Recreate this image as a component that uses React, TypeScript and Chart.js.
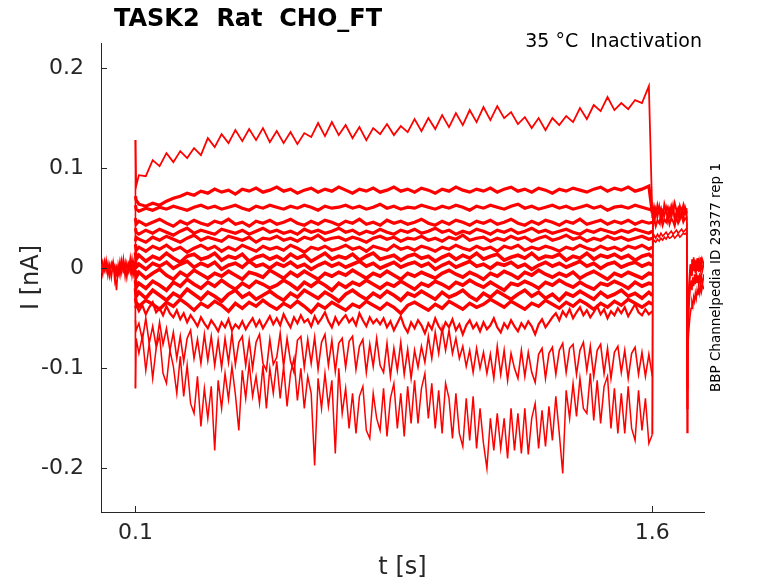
import React, { useEffect, useRef } from "react";
import { Chart, registerables } from "chart.js";

Chart.register(...registerables);

const FONT = '"DejaVu Sans", sans-serif';
const RED = "#ff0000";
const AXIS_GRAY = "#262626";

const TITLE = "TASK2  Rat  CHO_FT";
const CONDITION = "35 °C  Inactivation";
const SOURCE = "BBP Channelpedia ID 29377 rep 1";
const X_LABEL = "t [s]";
const Y_LABEL = "I [nA]";

const X_TICKS = [0.1, 1.6];
const Y_TICKS = [-0.2, -0.1, 0, 0.1, 0.2];

// holding level before the conditioning step (last point = step transient)
const T_BASE = [0, 0.005, 0.01, 0.015, 0.02, 0.025, 0.03, 0.035, 0.04, 0.045, 0.05,
    0.055, 0.06, 0.065, 0.07, 0.075, 0.08, 0.085, 0.09, 0.095, 0.0995, 0.1];

const BASE_1 = [0.004, -0.006, 0.007, -0.003, 0.005, -0.008, 0.002, 0.006, -0.005, -0.022, 0.003,
    -0.007, 0.008, -0.002, 0.006, -0.009, 0.004, -0.004, 0.009, -0.006, 0.002, 0.128];
const BASE_2 = [-0.005, 0.006, -0.002, 0.008, -0.007, 0.003, -0.009, 0.005, -0.012, 0.001, -0.006,
    0.007, -0.004, 0.009, -0.008, 0.005, -0.003, 0.010, -0.007, 0.006, -0.004, -0.120];
const BASE_3 = [0.001, -0.003, 0.004, -0.001, 0.002, -0.004, 0.005, -0.002, 0.003, -0.006, 0.002,
    -0.001, 0.004, -0.003, 0.001, 0.003, -0.002, 0.005, -0.004, 0.002, 0.000, 0.002];

// conditioning pulse, 0.1 .. 1.6 s (quiet sweeps)
const T_COND = [0.1, 0.102,
    0.11, 0.13, 0.15, 0.17, 0.19, 0.21, 0.23, 0.25, 0.27, 0.29,
    0.31, 0.33, 0.35, 0.37, 0.39, 0.41, 0.43, 0.45, 0.47, 0.49,
    0.51, 0.53, 0.55, 0.57, 0.59, 0.61, 0.63, 0.65, 0.67, 0.69,
    0.71, 0.73, 0.75, 0.77, 0.79, 0.81, 0.83, 0.85, 0.87, 0.89,
    0.91, 0.93, 0.95, 0.97, 0.99, 1.01, 1.03, 1.05, 1.07, 1.09,
    1.11, 1.13, 1.15, 1.17, 1.19, 1.21, 1.23, 1.25, 1.27, 1.29,
    1.31, 1.33, 1.35, 1.37, 1.39, 1.41, 1.43, 1.45, 1.47, 1.49,
    1.51, 1.53, 1.55, 1.57, 1.59, 1.6];

const COND_A = [0.128, 0.082,
    0.093, 0.092, 0.108, 0.102, 0.115, 0.106, 0.117, 0.110, 0.120, 0.113,
    0.130, 0.121, 0.134, 0.125, 0.138, 0.127, 0.139, 0.128, 0.140, 0.126,
    0.137, 0.125, 0.136, 0.124, 0.135, 0.131, 0.145, 0.132, 0.146, 0.133,
    0.143, 0.130, 0.141, 0.128, 0.140, 0.134, 0.144, 0.133, 0.142, 0.136,
    0.149, 0.137, 0.150, 0.139, 0.153, 0.141, 0.155, 0.143, 0.158, 0.146,
    0.161, 0.148, 0.162, 0.150, 0.156, 0.144, 0.151, 0.140, 0.150, 0.138,
    0.150, 0.143, 0.152, 0.146, 0.160, 0.149, 0.163, 0.157, 0.171, 0.158,
    0.165, 0.159, 0.168, 0.165, 0.182, 0.052];
const COND_B = [0.072, 0.068,
    0.064, 0.062, 0.065, 0.063, 0.067, 0.070, 0.072, 0.075, 0.073, 0.077,
    0.075, 0.079, 0.076, 0.078, 0.074, 0.079, 0.077, 0.080, 0.076, 0.078,
    0.081, 0.077, 0.079, 0.075, 0.078, 0.080, 0.076, 0.079, 0.077, 0.081,
    0.078, 0.075, 0.079, 0.077, 0.080, 0.076, 0.078, 0.081, 0.077, 0.079,
    0.076, 0.080, 0.078, 0.075, 0.079, 0.077, 0.081, 0.078, 0.076, 0.079,
    0.077, 0.080, 0.076, 0.079, 0.081, 0.077, 0.079, 0.076, 0.080, 0.078,
    0.075, 0.079, 0.077, 0.080, 0.078, 0.076, 0.079, 0.081, 0.077, 0.080,
    0.078, 0.081, 0.077, 0.079, 0.082, 0.055];
const COND_C = [0.063, 0.059,
    0.057, 0.060, 0.058, 0.061, 0.059, 0.062, 0.060, 0.058, 0.061, 0.063,
    0.060, 0.062, 0.059, 0.061, 0.063, 0.060, 0.058, 0.062, 0.060, 0.063,
    0.061, 0.059, 0.062, 0.060, 0.063, 0.061, 0.058, 0.062, 0.060, 0.061,
    0.063, 0.060, 0.062, 0.059, 0.061, 0.064, 0.060, 0.062, 0.059, 0.061,
    0.060, 0.063, 0.061, 0.059, 0.062, 0.060, 0.063, 0.061, 0.058, 0.062,
    0.060, 0.063, 0.061, 0.059, 0.062, 0.064, 0.060, 0.062, 0.059, 0.061,
    0.063, 0.060, 0.062, 0.059, 0.061, 0.063, 0.060, 0.062, 0.058, 0.061,
    0.062, 0.060, 0.063, 0.061, 0.059, 0.058];
const COND_D = [0.050, 0.044,
    0.047, 0.043, 0.046, 0.049, 0.045, 0.042, 0.047, 0.044, 0.048, 0.045,
    0.043, 0.047, 0.045, 0.049, 0.044, 0.046, 0.042, 0.047, 0.045, 0.048,
    0.044, 0.046, 0.049, 0.045, 0.043, 0.047, 0.044, 0.048, 0.046, 0.043,
    0.047, 0.045, 0.049, 0.044, 0.046, 0.043, 0.048, 0.045, 0.047, 0.044,
    0.046, 0.049, 0.045, 0.043, 0.047, 0.044, 0.048, 0.046, 0.043, 0.047,
    0.045, 0.048, 0.044, 0.046, 0.049, 0.045, 0.043, 0.047, 0.044, 0.048,
    0.046, 0.043, 0.047, 0.045, 0.049, 0.044, 0.046, 0.048, 0.044, 0.047,
    0.045, 0.048, 0.044, 0.047, 0.045, 0.046];
const COND_E = [0.040, 0.036,
    0.034, 0.038, 0.035, 0.039, 0.036, 0.033, 0.037, 0.040, 0.035, 0.038,
    0.036, 0.034, 0.039, 0.037, 0.035, 0.038, 0.034, 0.037, 0.040, 0.036,
    0.038, 0.035, 0.037, 0.034, 0.039, 0.036, 0.038, 0.035, 0.037, 0.040,
    0.036, 0.038, 0.034, 0.037, 0.035, 0.039, 0.036, 0.034, 0.038, 0.036,
    0.039, 0.035, 0.037, 0.040, 0.036, 0.038, 0.034, 0.037, 0.035, 0.039,
    0.037, 0.034, 0.038, 0.036, 0.039, 0.035, 0.037, 0.040, 0.036, 0.038,
    0.035, 0.037, 0.039, 0.036, 0.034, 0.038, 0.036, 0.039, 0.037, 0.035,
    0.038, 0.036, 0.039, 0.037, 0.035, 0.037];
const COND_F = [0.027, 0.031,
    0.029, 0.026, 0.031, 0.028, 0.032, 0.029, 0.026, 0.030, 0.033, 0.028,
    0.031, 0.029, 0.027, 0.032, 0.030, 0.028, 0.031, 0.026, 0.030, 0.029,
    0.032, 0.028, 0.030, 0.027, 0.031, 0.029, 0.033, 0.028, 0.030, 0.031,
    0.028, 0.031, 0.029, 0.026, 0.030, 0.032, 0.029, 0.031, 0.027, 0.030,
    0.029, 0.032, 0.028, 0.030, 0.027, 0.031, 0.029, 0.033, 0.028, 0.030,
    0.031, 0.027, 0.030, 0.028, 0.032, 0.029, 0.031, 0.027, 0.030, 0.032,
    0.028, 0.030, 0.033, 0.029, 0.031, 0.027, 0.030, 0.028, 0.032, 0.029,
    0.031, 0.028, 0.030, 0.032, 0.029, 0.030];
const COND_G = [0.024, 0.018,
    0.021, 0.017, 0.022, 0.019, 0.023, 0.018, 0.021, 0.016, 0.020, 0.023,
    0.019, 0.022, 0.017, 0.021, 0.018, 0.023, 0.020, 0.017, 0.022, 0.019,
    0.021, 0.018, 0.023, 0.020, 0.016, 0.021, 0.019, 0.022, 0.018, 0.020,
    0.023, 0.019, 0.021, 0.017, 0.022, 0.020, 0.018, 0.023, 0.019, 0.021,
    0.018, 0.022, 0.020, 0.017, 0.021, 0.019, 0.023, 0.020, 0.018, 0.022,
    0.019, 0.021, 0.017, 0.022, 0.020, 0.023, 0.018, 0.021, 0.019, 0.022,
    0.020, 0.017, 0.021, 0.019, 0.023, 0.020, 0.018, 0.022, 0.019, 0.021,
    0.018, 0.022, 0.020, 0.023, 0.019, 0.021];
const COND_H = [0.016, 0.009,
    0.013, 0.007, 0.012, 0.009, 0.015, 0.010, 0.006, 0.012, 0.014, 0.009,
    0.011, 0.015, 0.008, 0.012, 0.010, 0.014, 0.007, 0.011, 0.013, 0.009,
    0.012, 0.008, 0.014, 0.010, 0.013, 0.007, 0.011, 0.015, 0.009, 0.012,
    0.010, 0.014, 0.008, 0.012, 0.015, 0.009, 0.011, 0.013, 0.008, 0.012,
    0.014, 0.010, 0.012, 0.007, 0.011, 0.014, 0.009, 0.013, 0.010, 0.015,
    0.009, 0.012, 0.014, 0.008, 0.011, 0.013, 0.010, 0.015, 0.009, 0.012,
    0.011, 0.014, 0.008, 0.012, 0.010, 0.015, 0.009, 0.013, 0.011, 0.014,
    0.010, 0.013, 0.008, 0.012, 0.014, 0.011];
const COND_I = [0.007, 0.001,
    0.004, -0.001, 0.005, 0.002, 0.006, 0.000, 0.004, 0.007, 0.001, 0.005,
    0.002, 0.006, -0.001, 0.003, 0.005, 0.001, 0.007, 0.002, 0.004, 0.000,
    0.005, 0.002, 0.006, 0.001, 0.004, -0.001, 0.003, 0.006, 0.002, 0.005,
    0.001, 0.004, 0.007, 0.002, 0.005, 0.000, 0.003, 0.006, 0.001, 0.004,
    0.006, 0.002, 0.005, -0.001, 0.003, 0.006, 0.001, 0.004, 0.007, 0.002,
    0.004, 0.000, 0.005, 0.003, 0.006, 0.001, 0.004, -0.001, 0.003, 0.006,
    0.002, 0.005, 0.001, 0.004, 0.007, 0.002, 0.005, 0.000, 0.004, 0.006,
    0.001, 0.004, 0.006, 0.002, 0.005, 0.003];
const COND_J = [-0.002, -0.009,
    -0.004, -0.010, -0.005, -0.001, -0.007, -0.011, -0.004, -0.008, -0.002, -0.006,
    -0.010, -0.005, -0.008, -0.003, -0.007, -0.011, -0.004, -0.006, -0.009, -0.002,
    -0.006, -0.010, -0.004, -0.008, -0.003, -0.007, -0.011, -0.005, -0.008, -0.004,
    -0.007, -0.002, -0.006, -0.010, -0.005, -0.008, -0.003, -0.007, -0.011, -0.005,
    -0.008, -0.004, -0.007, -0.010, -0.005, -0.002, -0.006, -0.009, -0.004, -0.007,
    -0.011, -0.005, -0.008, -0.003, -0.006, -0.010, -0.004, -0.007, -0.002, -0.006,
    -0.009, -0.005, -0.008, -0.004, -0.010, -0.006, -0.003, -0.007, -0.011, -0.005,
    -0.008, -0.004, -0.007, -0.010, -0.005, -0.006];
const COND_K = [-0.012, -0.019,
    -0.015, -0.020, -0.013, -0.017, -0.022, -0.014, -0.018, -0.011, -0.016, -0.020,
    -0.014, -0.018, -0.012, -0.017, -0.021, -0.015, -0.019, -0.013, -0.016, -0.020,
    -0.017, -0.012, -0.016, -0.021, -0.014, -0.018, -0.013, -0.017, -0.022, -0.015,
    -0.019, -0.014, -0.017, -0.012, -0.016, -0.020, -0.015, -0.018, -0.013, -0.017,
    -0.021, -0.015, -0.018, -0.013, -0.016, -0.020, -0.014, -0.017, -0.012, -0.016,
    -0.019, -0.014, -0.018, -0.022, -0.015, -0.017, -0.013, -0.016, -0.020, -0.014,
    -0.017, -0.012, -0.016, -0.019, -0.014, -0.018, -0.021, -0.015, -0.017, -0.013,
    -0.016, -0.020, -0.014, -0.018, -0.015, -0.016];
const COND_L = [-0.020, -0.028,
    -0.024, -0.030, -0.022, -0.027, -0.032, -0.025, -0.029, -0.021, -0.026, -0.031,
    -0.024, -0.028, -0.033, -0.026, -0.022, -0.029, -0.025, -0.031, -0.027, -0.023,
    -0.028, -0.032, -0.025, -0.029, -0.022, -0.026, -0.030, -0.024, -0.028, -0.033,
    -0.026, -0.022, -0.027, -0.031, -0.025, -0.029, -0.023, -0.027, -0.032, -0.025,
    -0.028, -0.023, -0.027, -0.031, -0.024, -0.029, -0.026, -0.022, -0.028, -0.032,
    -0.025, -0.029, -0.023, -0.027, -0.031, -0.026, -0.022, -0.028, -0.024, -0.030,
    -0.026, -0.032, -0.025, -0.028, -0.023, -0.027, -0.031, -0.024, -0.029, -0.026,
    -0.022, -0.028, -0.025, -0.030, -0.024, -0.027];
const COND_M = [-0.030, -0.034,
    -0.038, -0.032, -0.036, -0.041, -0.034, -0.038, -0.031, -0.036, -0.042, -0.035,
    -0.039, -0.033, -0.037, -0.043, -0.035, -0.040, -0.034, -0.038, -0.032, -0.037,
    -0.041, -0.035, -0.039, -0.033, -0.038, -0.044, -0.036, -0.040, -0.034, -0.038,
    -0.042, -0.036, -0.039, -0.033, -0.037, -0.041, -0.035, -0.039, -0.045, -0.037,
    -0.034, -0.038, -0.042, -0.036, -0.040, -0.033, -0.037, -0.041, -0.035, -0.039,
    -0.036, -0.031, -0.035, -0.039, -0.033, -0.037, -0.041, -0.035, -0.038, -0.032,
    -0.036, -0.040, -0.034, -0.038, -0.032, -0.036, -0.041, -0.035, -0.039, -0.033,
    -0.037, -0.031, -0.035, -0.039, -0.034, -0.036];

// conditioning pulse, noisier sweeps sampled at 10 ms
const T_FINE = [0.1, 0.102,
    0.11, 0.12, 0.13, 0.14, 0.15, 0.16, 0.17, 0.18, 0.19, 0.2,
    0.21, 0.22, 0.23, 0.24, 0.25, 0.26, 0.27, 0.28, 0.29, 0.3,
    0.31, 0.32, 0.33, 0.34, 0.35, 0.36, 0.37, 0.38, 0.39, 0.4,
    0.41, 0.42, 0.43, 0.44, 0.45, 0.46, 0.47, 0.48, 0.49, 0.5,
    0.51, 0.52, 0.53, 0.54, 0.55, 0.56, 0.57, 0.58, 0.59, 0.6,
    0.61, 0.62, 0.63, 0.64, 0.65, 0.66, 0.67, 0.68, 0.69, 0.7,
    0.71, 0.72, 0.73, 0.74, 0.75, 0.76, 0.77, 0.78, 0.79, 0.8,
    0.81, 0.82, 0.83, 0.84, 0.85, 0.86, 0.87, 0.88, 0.89, 0.9,
    0.91, 0.92, 0.93, 0.94, 0.95, 0.96, 0.97, 0.98, 0.99, 1.0,
    1.01, 1.02, 1.03, 1.04, 1.05, 1.06, 1.07, 1.08, 1.09, 1.1,
    1.11, 1.12, 1.13, 1.14, 1.15, 1.16, 1.17, 1.18, 1.19, 1.2,
    1.21, 1.22, 1.23, 1.24, 1.25, 1.26, 1.27, 1.28, 1.29, 1.3,
    1.31, 1.32, 1.33, 1.34, 1.35, 1.36, 1.37, 1.38, 1.39, 1.4,
    1.41, 1.42, 1.43, 1.44, 1.45, 1.46, 1.47, 1.48, 1.49, 1.5,
    1.51, 1.52, 1.53, 1.54, 1.55, 1.56, 1.57, 1.58, 1.59, 1.6];

const FINE_N = [-0.040, -0.036,
    -0.043, -0.037, -0.046, -0.039, -0.034, -0.044, -0.040, -0.047, -0.038, -0.045,
    -0.049, -0.042, -0.051, -0.045, -0.054, -0.047, -0.052, -0.058, -0.049, -0.055,
    -0.060, -0.052, -0.057, -0.063, -0.054, -0.059, -0.051, -0.062, -0.056, -0.060,
    -0.053, -0.061, -0.055, -0.050, -0.058, -0.052, -0.060, -0.054, -0.048, -0.056,
    -0.050, -0.057, -0.046, -0.053, -0.059, -0.049, -0.055, -0.047, -0.054, -0.051,
    -0.058, -0.048, -0.055, -0.050, -0.044, -0.053, -0.059, -0.049, -0.056, -0.051,
    -0.047, -0.054, -0.050, -0.057, -0.045, -0.052, -0.058, -0.049, -0.055, -0.051,
    -0.056, -0.050, -0.059, -0.053, -0.062, -0.055, -0.048, -0.058, -0.064, -0.054,
    -0.060, -0.052, -0.057, -0.065, -0.055, -0.061, -0.050, -0.058, -0.063, -0.054,
    -0.059, -0.051, -0.062, -0.056, -0.066, -0.057, -0.052, -0.060, -0.055, -0.063,
    -0.054, -0.061, -0.057, -0.050, -0.059, -0.064, -0.055, -0.060, -0.052, -0.058,
    -0.063, -0.055, -0.060, -0.053, -0.058, -0.066, -0.056, -0.051, -0.059, -0.054,
    -0.049, -0.045, -0.052, -0.043, -0.048, -0.041, -0.050, -0.044, -0.039, -0.047,
    -0.042, -0.049, -0.044, -0.038, -0.046, -0.041, -0.050, -0.043, -0.047, -0.040,
    -0.045, -0.039, -0.048, -0.042, -0.036, -0.044, -0.047, -0.041, -0.046, -0.043];
const FINE_O = [-0.052, -0.062,
    -0.055, -0.072, -0.050, -0.075, -0.058, -0.078, -0.054, -0.076, -0.060, -0.082,
    -0.064, -0.090, -0.068, -0.093, -0.070, -0.062, -0.090, -0.071, -0.095, -0.066,
    -0.092, -0.068, -0.097, -0.072, -0.099, -0.070, -0.094, -0.065, -0.096, -0.074,
    -0.068, -0.097, -0.072, -0.100, -0.074, -0.066, -0.095, -0.102, -0.071, -0.096,
    -0.089, -0.065, -0.098, -0.070, -0.093, -0.104, -0.072, -0.068, -0.099, -0.071,
    -0.095, -0.069, -0.101, -0.074, -0.066, -0.097, -0.072, -0.103, -0.075, -0.070,
    -0.099, -0.073, -0.068, -0.101, -0.078, -0.071, -0.104, -0.076, -0.098, -0.070,
    -0.097, -0.104, -0.075, -0.108, -0.080, -0.102, -0.074, -0.106, -0.081, -0.110,
    -0.082, -0.099, -0.078, -0.094, -0.068, -0.090, -0.064, -0.085, -0.060, -0.082,
    -0.062, -0.085, -0.070, -0.090, -0.078, -0.098, -0.082, -0.104, -0.080, -0.100,
    -0.084, -0.105, -0.086, -0.110, -0.078, -0.106, -0.082, -0.112, -0.085, -0.100,
    -0.110, -0.082, -0.108, -0.084, -0.104, -0.114, -0.086, -0.080, -0.110, -0.085,
    -0.079, -0.106, -0.082, -0.075, -0.104, -0.080, -0.076, -0.106, -0.082, -0.074,
    -0.102, -0.078, -0.108, -0.082, -0.076, -0.105, -0.080, -0.110, -0.084, -0.078,
    -0.104, -0.082, -0.110, -0.085, -0.079, -0.106, -0.084, -0.108, -0.086, -0.108];
const FINE_P = [-0.120, -0.070,
    -0.085, -0.068, -0.102, -0.075, -0.110, -0.080, -0.067, -0.105, -0.115, -0.082,
    -0.098, -0.125, -0.088, -0.128, -0.097, -0.135, -0.145, -0.108, -0.158, -0.120,
    -0.150, -0.118, -0.182, -0.112, -0.140, -0.105, -0.131, -0.098, -0.126, -0.162,
    -0.102, -0.130, -0.095, -0.128, -0.108, -0.135, -0.097, -0.140, -0.100, -0.125,
    -0.093, -0.130, -0.098, -0.138, -0.105, -0.090, -0.132, -0.100, -0.140, -0.108,
    -0.125, -0.197, -0.110, -0.140, -0.105, -0.138, -0.112, -0.185, -0.100, -0.145,
    -0.120, -0.160, -0.125, -0.165, -0.128, -0.118, -0.162, -0.170, -0.125, -0.150,
    -0.162, -0.120, -0.168, -0.130, -0.115, -0.160, -0.125, -0.168, -0.118, -0.155,
    -0.112, -0.155, -0.120, -0.105, -0.150, -0.115, -0.160, -0.122, -0.165, -0.115,
    -0.130, -0.170, -0.125, -0.165, -0.178, -0.130, -0.172, -0.128, -0.180, -0.140,
    -0.175, -0.200, -0.150, -0.182, -0.145, -0.180, -0.150, -0.190, -0.140, -0.182,
    -0.145, -0.185, -0.140, -0.186, -0.150, -0.135, -0.180, -0.142, -0.178, -0.138,
    -0.172, -0.128, -0.165, -0.205, -0.122, -0.150, -0.115, -0.148, -0.110, -0.140,
    -0.145, -0.105, -0.152, -0.112, -0.155, -0.118, -0.108, -0.160, -0.120, -0.165,
    -0.125, -0.165, -0.118, -0.160, -0.172, -0.122, -0.162, -0.130, -0.175, -0.166];

// test pulse, 1.6 .. 1.7 s
const T_TEST = [1.6, 1.602, 1.605, 1.61, 1.615, 1.62, 1.625, 1.63, 1.635, 1.64, 1.645,
    1.65, 1.655, 1.66, 1.665, 1.67, 1.675, 1.68, 1.685, 1.69, 1.695, 1.7];
const TEST_A = [-0.166, 0.055, 0.061, 0.052, 0.063, 0.056, 0.060, 0.050, 0.064, 0.057, 0.061,
    0.053, 0.062, 0.055, 0.065, 0.058, 0.051, 0.062, 0.056, 0.063, 0.054, 0.060];
const TEST_B = [0.050, 0.058, 0.049, 0.059, 0.052, 0.061, 0.047, 0.057, 0.053, 0.060, 0.048,
    0.058, 0.051, 0.062, 0.049, 0.056, 0.060, 0.050, 0.058, 0.052, 0.061, 0.055];
const TEST_C = [0.046, 0.044, 0.050, 0.042, 0.048, 0.045, 0.052, 0.043, 0.049, 0.046, 0.053,
    0.044, 0.050, 0.047, 0.042, 0.051, 0.045, 0.049, 0.053, 0.046, 0.050, 0.048];
const TEST_D = [0.031, 0.029, 0.033, 0.030, 0.034, 0.031, 0.035, 0.032, 0.034, 0.036, 0.033,
    0.035, 0.037, 0.034, 0.036, 0.038, 0.035, 0.037, 0.039, 0.036, 0.038, 0.040];
const TEST_E = [0.027, 0.025, 0.028, 0.026, 0.029, 0.027, 0.030, 0.028, 0.031, 0.029, 0.032,
    0.030, 0.031, 0.033, 0.030, 0.032, 0.034, 0.031, 0.033, 0.035, 0.034, 0.036];

// tail after the test pulse
const T_TAIL = [1.7, 1.701, 1.703, 1.705, 1.7075, 1.71, 1.7125, 1.715, 1.7175, 1.72, 1.7225,
    1.725, 1.7275, 1.73, 1.7325, 1.735, 1.7375, 1.74, 1.7425, 1.745, 1.75];
const TAIL_A = [0.058, -0.164, -0.070, -0.035, -0.018, -0.006, 0.004, -0.008, 0.007, -0.003, 0.009,
    -0.005, 0.006, -0.002, 0.010, -0.004, 0.008, -0.001, 0.006, -0.003, 0.005];
const TAIL_B = [0.045, -0.120, -0.085, -0.050, -0.032, -0.020, -0.012, -0.022, -0.009, -0.018, -0.006,
    -0.016, -0.004, -0.014, -0.007, -0.019, -0.005, -0.013, -0.008, -0.017, -0.006];
const TAIL_C = [0.030, -0.090, -0.080, -0.066, -0.055, -0.046, -0.040, -0.034, -0.038, -0.029, -0.033,
    -0.025, -0.030, -0.022, -0.027, -0.020, -0.025, -0.018, -0.023, -0.016, -0.021];
const TAIL_D = [0.052, -0.140, -0.060, -0.025, -0.010, 0.004, -0.006, 0.009, -0.002, 0.011, 0.000,
    0.008, -0.004, 0.010, 0.002, 0.007, -0.003, 0.011, 0.001, 0.009, 0.004];

const decorations = {
    id: "decorations",
    afterDraw(chart: Chart) {
        const { ctx, chartArea, scales } = chart;
        ctx.save();

        // inward tick marks, like the original figure
        ctx.strokeStyle = AXIS_GRAY;
        ctx.lineWidth = 1;
        X_TICKS.forEach(v => {
            const x = Math.round(scales.x.getPixelForValue(v)) + 0.5;
            ctx.beginPath();
            ctx.moveTo(x, chartArea.bottom);
            ctx.lineTo(x, chartArea.bottom - 6);
            ctx.stroke();
        });
        Y_TICKS.forEach(v => {
            const y = Math.round(scales.y.getPixelForValue(v)) + 0.5;
            ctx.beginPath();
            ctx.moveTo(chartArea.left, y);
            ctx.lineTo(chartArea.left + 6, y);
            ctx.stroke();
        });

        ctx.fillStyle = "#000";
        ctx.textBaseline = "alphabetic";

        ctx.font = `bold 24px ${FONT}`;
        ctx.textAlign = "left";
        ctx.fillText(TITLE, 114, 26);

        ctx.font = `19px ${FONT}`;
        ctx.textAlign = "right";
        ctx.fillText(CONDITION, 702, 47);

        ctx.fillStyle = AXIS_GRAY;
        ctx.font = `24px ${FONT}`;
        ctx.textAlign = "center";
        ctx.fillText(X_LABEL, (chartArea.left + chartArea.right) / 2, 574);

        ctx.save();
        ctx.translate(38, (chartArea.top + chartArea.bottom) / 2);
        ctx.rotate(-Math.PI / 2);
        ctx.fillText(Y_LABEL, 0, 0);
        ctx.restore();

        ctx.fillStyle = "#000";
        ctx.font = `13.5px ${FONT}`;
        ctx.save();
        ctx.translate(720, (chartArea.top + chartArea.bottom) / 2);
        ctx.rotate(-Math.PI / 2);
        ctx.fillText(SOURCE, 0, 0);
        ctx.restore();

        ctx.restore();
    },
};

const App: React.FC = () => {
    const canvasRef = useRef<HTMLCanvasElement | null>(null);

    useEffect(() => {
        if (!canvasRef.current) return;
        const ctx = canvasRef.current.getContext("2d");
        if (!ctx) return;

        const trace = (ts: number[], vs: number[], width: number) => ({
            data: ts.map((t, i) => ({ x: t, y: vs[i] })),
            borderColor: RED,
            borderWidth: width,
            pointRadius: 0,
            tension: 0,
            fill: false,
        });

        const datasets = [
            trace(T_BASE, BASE_1, 1.6),
            trace(T_BASE, BASE_2, 1.6),
            trace(T_BASE, BASE_3, 1.6),
            trace(T_COND, COND_A, 1.8),
            trace(T_COND, COND_B, 3.2),
            trace(T_COND, COND_C, 3.2),
            trace(T_COND, COND_D, 3.2),
            trace(T_COND, COND_E, 3.2),
            trace(T_COND, COND_F, 3.2),
            trace(T_COND, COND_G, 3.2),
            trace(T_COND, COND_H, 3.6),
            trace(T_COND, COND_I, 3.6),
            trace(T_COND, COND_J, 3.6),
            trace(T_COND, COND_K, 3.6),
            trace(T_COND, COND_L, 3.6),
            trace(T_COND, COND_M, 3.4),
            trace(T_FINE, FINE_N, 2.2),
            trace(T_FINE, FINE_O, 1.6),
            trace(T_FINE, FINE_P, 1.5),
            trace(T_TEST, TEST_A, 2),
            trace(T_TEST, TEST_B, 2),
            trace(T_TEST, TEST_C, 2),
            trace(T_TEST, TEST_D, 1.6),
            trace(T_TEST, TEST_E, 1.6),
            trace(T_TAIL, TAIL_A, 1.6),
            trace(T_TAIL, TAIL_B, 1.6),
            trace(T_TAIL, TAIL_C, 1.6),
            trace(T_TAIL, TAIL_D, 1.6),
        ];

        const chart = new Chart(ctx, {
            type: "line",
            data: { datasets },
            options: {
                responsive: false,
                animation: false,
                layout: { padding: { left: 0, right: 74, top: 43, bottom: 0 } },
                plugins: {
                    legend: { display: false },
                    tooltip: { enabled: false },
                },
                scales: {
                    x: {
                        type: "linear",
                        min: 0,
                        max: 1.75,
                        afterBuildTicks: (scale: any) => {
                            scale.ticks = X_TICKS.map(v => ({ value: v }));
                        },
                        afterFit: (scale: any) => {
                            scale.height = 71;
                        },
                        grid: { display: false, drawTicks: false },
                        border: { display: true, color: AXIS_GRAY, width: 1 },
                        ticks: {
                            autoSkip: false,
                            maxRotation: 0,
                            padding: 8,
                            color: AXIS_GRAY,
                            font: { family: FONT, size: 22 },
                            callback: (v: any) => `${v}`,
                        },
                    },
                    y: {
                        type: "linear",
                        min: -0.2435,
                        max: 0.225,
                        afterBuildTicks: (scale: any) => {
                            scale.ticks = Y_TICKS.map(v => ({ value: v }));
                        },
                        afterFit: (scale: any) => {
                            scale.width = 101;
                        },
                        grid: { display: false, drawTicks: false },
                        border: { display: true, color: AXIS_GRAY, width: 1 },
                        ticks: {
                            autoSkip: false,
                            padding: 17,
                            color: AXIS_GRAY,
                            font: { family: FONT, size: 22 },
                            callback: (v: any) => `${v}`,
                        },
                    },
                },
            },
            plugins: [decorations],
        });

        return () => {
            chart.destroy();
        };
    }, []);

    return (
        <div style={{ position: "fixed", left: 0, top: 0, width: 778, height: 583, background: "#fff" }}>
            <canvas ref={canvasRef} width={778} height={583} style={{ display: "block" }} />
        </div>
    );
};

export default App;
